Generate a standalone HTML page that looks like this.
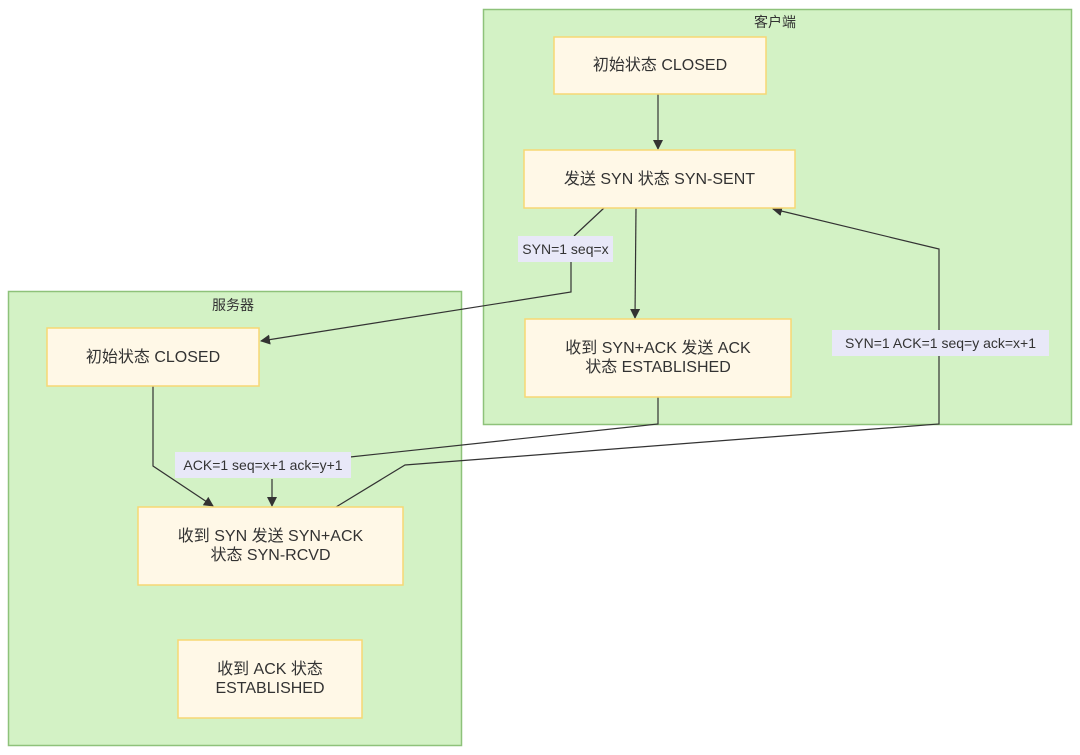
<!DOCTYPE html>
<html><head><meta charset="utf-8">
<style>
html,body{margin:0;padding:0;background:#fff;}
svg{display:block;}
text{font-family:"Liberation Sans","Noto Sans CJK SC",sans-serif;fill:#333;}
</style></head>
<body>
<svg width="1080" height="755" viewBox="0 0 1080 755" xmlns="http://www.w3.org/2000/svg">
<defs>
<marker id="a" markerWidth="10" markerHeight="10" refX="9" refY="5" orient="auto" markerUnits="userSpaceOnUse">
<path d="M0,0 L10,5 L0,10 z" fill="#333"/>
</marker>
</defs>
<!-- clusters -->
<rect x="483.5" y="9.5" width="588" height="415" fill="#d3f2c5" stroke="#8ec27a" stroke-width="1.5"/>
<text x="775" y="27" font-size="14" text-anchor="middle">客户端</text>
<rect x="8.5" y="291.5" width="453" height="454" fill="#d3f2c5" stroke="#8ec27a" stroke-width="1.5"/>
<text x="233" y="310" font-size="14" text-anchor="middle">服务器</text>

<!-- edges -->
<g fill="none" stroke="#333" stroke-width="1.2">
<path d="M658,94 L658,149" marker-end="url(#a)"/>
<path d="M636,208 L635,318" marker-end="url(#a)"/>
<path d="M604,208 L574,236 M571,261 L571,292 L261,341" marker-end="url(#a)"/>
<path d="M658,397 L658,424 L350,457"/>
<path d="M272,479 L272,506" marker-end="url(#a)"/>
<path d="M153,386 L153,466 L213,506" marker-end="url(#a)"/>
<path d="M336,507 L405,465 L939,424 L939,249 L773,209" marker-end="url(#a)"/>
</g>

<!-- edge labels -->
<rect x="518" y="236" width="95" height="26" fill="#e8e8f8"/>
<text x="565.5" y="254" font-size="14" text-anchor="middle">SYN=1 seq=x</text>
<rect x="175" y="452" width="176" height="26" fill="#e8e8f8"/>
<text x="263" y="470" font-size="14" text-anchor="middle">ACK=1 seq=x+1 ack=y+1</text>
<rect x="832" y="330" width="217" height="26" fill="#e8e8f8"/>
<text x="940.5" y="348" font-size="14" text-anchor="middle">SYN=1 ACK=1 seq=y ack=x+1</text>

<!-- nodes -->
<g fill="#fff8e7" stroke="#f7d774" stroke-width="1.5">
<rect x="554" y="37" width="212" height="57"/>
<rect x="524" y="150" width="271" height="58"/>
<rect x="525" y="319" width="266" height="78"/>
<rect x="47" y="328" width="212" height="58"/>
<rect x="138" y="507" width="265" height="78"/>
<rect x="178" y="640" width="184" height="78"/>
</g>
<g font-size="16" text-anchor="middle">
<text x="660" y="70">初始状态 CLOSED</text>
<text x="659.5" y="184">发送 SYN 状态 SYN-SENT</text>
<text x="658" y="353">收到 SYN+ACK 发送 ACK</text>
<text x="658" y="372">状态 ESTABLISHED</text>
<text x="153" y="362">初始状态 CLOSED</text>
<text x="270.5" y="541">收到 SYN 发送 SYN+ACK</text>
<text x="270.5" y="560">状态 SYN-RCVD</text>
<text x="270" y="674">收到 ACK 状态</text>
<text x="270" y="693">ESTABLISHED</text>
</g>
</svg>
</body></html>
